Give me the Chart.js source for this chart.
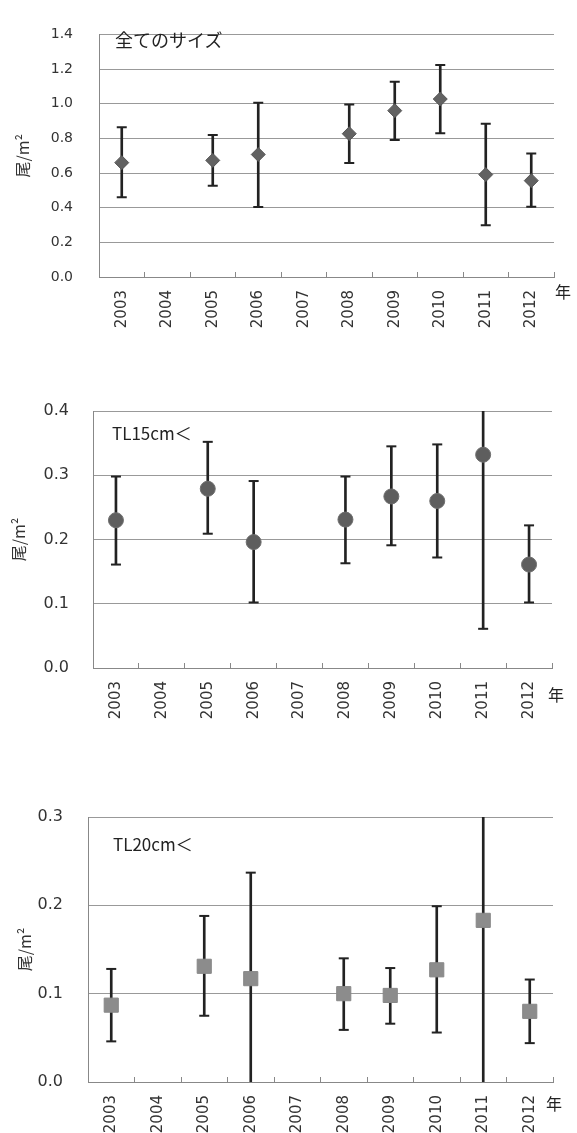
<!DOCTYPE html>
<html lang="ja">
<head>
<meta charset="utf-8">
<title>尾/㎡ 年別推移</title>
<script src="https://cdn.jsdelivr.net/npm/chart.js@4/dist/chart.umd.min.js"></script>
<style>
  html, body { margin:0; padding:0; background:#fff; }
  body { width:577px; height:1133px; position:relative; overflow:hidden; }
  canvas { position:absolute; left:0; }
  .note { position:absolute; font-family:"Noto Sans CJK JP", sans-serif; color:#222; white-space:nowrap; line-height:1; }
</style>
</head>
<body>
<canvas id="allChart" style="top:0"></canvas>
<canvas id="tl15Chart" style="top:340px"></canvas>
<canvas id="tl20Chart" style="top:740px"></canvas>

<div class="note" style="left:115px;top:30px;font-size:18px">全てのサイズ</div>
<div class="note" style="left:112px;top:424px;font-size:17px">TL15cm＜</div>
<div class="note" style="left:113px;top:835px;font-size:17px">TL20cm＜</div>
<div class="note" style="left:555px;top:283px;font-size:16px">年</div>
<div class="note" style="left:548px;top:686px;font-size:16px">年</div>
<div class="note" style="left:546px;top:1095px;font-size:16px">年</div>

<script>
// ============================================================
// DATA
// ============================================================
const YEARS = ['2003','2004','2005','2006','2007','2008','2009','2010','2011','2012'];

// 全てのサイズ
const ALL_MEAN  = [0.660, null, 0.673, 0.707, null, 0.827, 0.960, 1.027, 0.591, 0.556];
const ALL_UPPER = [0.864, null, 0.820, 1.005, null, 0.995, 1.127, 1.224, 0.885, 0.713];
const ALL_LOWER = [0.460, null, 0.527, 0.404, null, 0.658, 0.791, 0.829, 0.298, 0.405];

// TL15cm＜
const TL15_MEAN  = [0.230, null, 0.279, 0.196, null, 0.231, 0.267, 0.260, 0.332, 0.161];
const TL15_UPPER = [0.298, null, 0.352, 0.291, null, 0.298, 0.345, 0.348, 0.603, 0.222];
const TL15_LOWER = [0.161, null, 0.209, 0.102, null, 0.163, 0.191, 0.172, 0.061, 0.102];

// TL20cm＜
const TL20_MEAN  = [0.087, null, 0.131, 0.117, null, 0.100, 0.098, 0.127, 0.183, 0.080];
const TL20_UPPER = [0.128, null, 0.188, 0.237, null, 0.140, 0.129, 0.199, 0.370, 0.116];
const TL20_LOWER = [0.046, null, 0.075, -0.003, null, 0.059, 0.066, 0.056, -0.004, 0.044];

const Y_TITLE = '尾/m²';

// ============================================================
// CHART BUILDER
// ============================================================
const GRID = '#999';
const INK  = '#222';

function makePanel(id, cfg) {
  const el = document.getElementById(id);
  el.width = 577; el.height = cfg.h;
  el.style.width = '577px'; el.style.height = cfg.h + 'px';

  const whisker = cfg.lower.map((l, i) => l == null ? null : [l, cfg.upper[i]]);

  return new Chart(el, {
    type: 'bar',
    data: {
      labels: YEARS,
      datasets: [
        { type: 'line', data: cfg.mean, showLine: false, clip: 0, order: 0,
          pointStyle: cfg.marker, pointRadius: cfg.radius,
          pointBackgroundColor: cfg.fill, pointBorderColor: cfg.edge, pointBorderWidth: 1 },
        { type: 'line', data: cfg.upper, showLine: false, clip: 0, order: 1,
          pointStyle: 'line', pointRadius: 5, pointBorderColor: INK, pointBorderWidth: 2 },
        { type: 'line', data: cfg.lower, showLine: false, clip: 0, order: 1,
          pointStyle: 'line', pointRadius: 5, pointBorderColor: INK, pointBorderWidth: 2 },
        { data: whisker, backgroundColor: INK, barThickness: 2, clip: 0, order: 2 }
      ]
    },
    options: {
      responsive: false, animation: false, events: [],
      layout: { padding: { top: cfg.top, right: cfg.right, left: 0, bottom: 0 } },
      plugins: { legend: { display: false }, tooltip: { enabled: false } },
      scales: {
        x: {
          offset: true,
          grid: { display: true, drawOnChartArea: false, drawTicks: true, tickLength: -5, color: '#888', offset: true },
          border: { color: '#888' },
          ticks: { color: '#333', minRotation: 90, maxRotation: 90, padding: 18, autoSkip: false,
                   font: { family: 'DejaVu Sans', size: 15 } },
          afterFit: s => { s.height = cfg.xh; }
        },
        y: {
          min: 0, max: cfg.max,
          grid: { color: GRID, drawTicks: false },
          border: { color: '#888' },
          ticks: { stepSize: cfg.step, color: '#333', padding: cfg.tpad,
                   font: { family: 'DejaVu Sans', size: cfg.tsize },
                   callback: v => (+v).toFixed(1) },
          title: { display: true, text: Y_TITLE, color: '#333',
                   font: { family: 'Noto Sans CJK JP', size: 16 },
                   padding: { top: cfg.titlePad, bottom: 0 } },
          afterFit: s => { s.width = cfg.left; }
        }
      }
    }
  });
}

makePanel('allChart', {
  h: 340, top: 21, right: 23, left: 99, xh: 63, max: 1.4, step: 0.2, tsize: 14, tpad: 26, titlePad: 13,
  mean: ALL_MEAN, upper: ALL_UPPER, lower: ALL_LOWER,
  marker: 'rectRot', radius: 7, fill: '#626262', edge: '#555'
});

makePanel('tl15Chart', {
  h: 400, top: 71, right: 25, left: 93, xh: 72, max: 0.4, step: 0.1, tsize: 16, tpad: 24, titlePad: 9,
  mean: TL15_MEAN, upper: TL15_UPPER, lower: TL15_LOWER,
  marker: 'circle', radius: 7.5, fill: '#5e5e5e', edge: '#6e6e6e'
});

makePanel('tl20Chart', {
  h: 393, top: 77, right: 24, left: 88, xh: 51, max: 0.3, step: 0.1, tsize: 16, tpad: 25, titlePad: 15,
  mean: TL20_MEAN, upper: TL20_UPPER, lower: TL20_LOWER,
  marker: 'rect', radius: 10, fill: '#8c8c8c', edge: '#888'
});
</script>
</body>
</html>
